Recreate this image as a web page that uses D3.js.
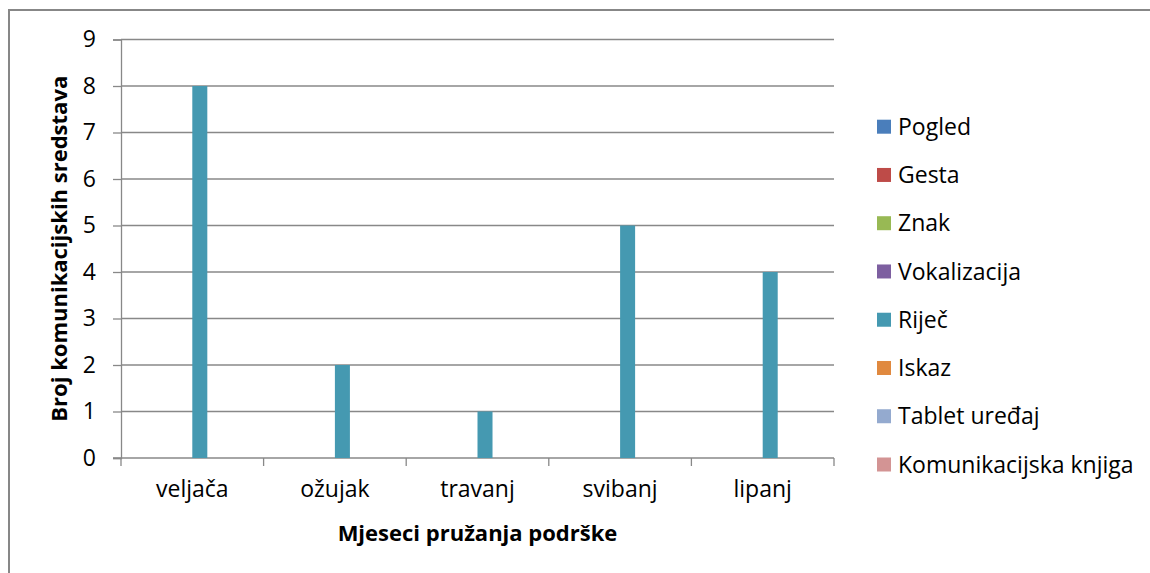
<!DOCTYPE html>
<html>
<head>
<meta charset="utf-8">
<script src="https://cdn.jsdelivr.net/npm/d3@7"></script>
<style>
  html, body { margin: 0; padding: 0; background: #fff; }
  svg { display: block; }
  text { font-family: "Open Sans", "Noto Sans", sans-serif; fill: #000; }
</style>
</head>
<body>
<svg id="chart" width="1150" height="573"></svg>
<script>
// ---- data ----
const categories = ["veljača", "ožujak", "travanj", "svibanj", "lipanj"];
const seriesNames = ["Pogled", "Gesta", "Znak", "Vokalizacija", "Riječ", "Iskaz", "Tablet uređaj", "Komunikacijska knjiga"];
const pogled = [0, 0, 0, 0, 0];
const gesta = [0, 0, 0, 0, 0];
const znak = [0, 0, 0, 0, 0];
const vokalizacija = [0, 0, 0, 0, 0];
const rijec = [8, 2, 1, 5, 4];
const iskaz = [0, 0, 0, 0, 0];
const tablet = [0, 0, 0, 0, 0];
const knjiga = [0, 0, 0, 0, 0];
const yTicks = [0, 1, 2, 3, 4, 5, 6, 7, 8, 9];
const colors = ["#4A7EBB", "#BE4B48", "#98B954", "#7D5FA0", "#4599B1", "#E0893F", "#94AACF", "#D39494"];
const yTitle = "Broj komunikacijskih sredstava";
const xTitle = "Mjeseci pružanja podrške";

const seriesValues = [pogled, gesta, znak, vokalizacija, rijec, iskaz, tablet, knjiga];
const series = seriesNames.map((name, i) => ({ name, color: colors[i], values: seriesValues[i] }));

// ---- layout ----
const svg = d3.select("#chart");
const plot = { left: 121, right: 834, top: 39.5, bottom: 458 };
const gridColor = "#888888";
const labelSize = 23;
const titleSize = 22;

// outer border (extends past right/bottom of the picture)
svg.append("rect")
  .attr("x", 9).attr("y", 10)
  .attr("width", 1160).attr("height", 600)
  .attr("fill", "none").attr("stroke", "#878787").attr("stroke-width", 2);

const x = d3.scaleBand().domain(categories).range([plot.left, plot.right]).paddingInner(0).paddingOuter(0);
const xs = d3.scaleBand().domain(seriesNames).range([0, x.bandwidth()]).paddingInner(0).paddingOuter(0.75);
const y = d3.scaleLinear().domain([0, 9]).range([plot.bottom, plot.top]);

// gridlines + y axis
const yAxis = d3.axisLeft(y).tickValues(yTicks).tickSize(8).tickPadding(17).tickFormat(d3.format("d"));
const gy = svg.append("g").attr("transform", `translate(${plot.left},0)`).call(yAxis);
gy.select(".domain").attr("stroke", gridColor).attr("stroke-width", 1.3);
gy.selectAll(".tick line").attr("stroke", gridColor).attr("stroke-width", 1.3);
gy.selectAll(".tick text").attr("font-size", labelSize).attr("font-family", "Open Sans").attr("fill", "#000");

svg.append("g").selectAll("line").data(yTicks.filter(d => d > 0)).join("line")
  .attr("x1", plot.left).attr("x2", plot.right)
  .attr("y1", d => y(d)).attr("y2", d => y(d))
  .attr("stroke", gridColor).attr("stroke-width", 1.3);

// x axis
const xAxis = d3.axisBottom(x).tickSize(0).tickPadding(23);
const gx = svg.append("g").attr("transform", `translate(0,${plot.bottom})`).call(xAxis);
gx.select(".domain").remove();
gx.selectAll(".tick text").attr("font-size", labelSize).attr("font-family", "Open Sans").attr("fill", "#000");
svg.append("line")
  .attr("x1", plot.left - 8).attr("x2", plot.right)
  .attr("y1", plot.bottom).attr("y2", plot.bottom)
  .attr("stroke", gridColor).attr("stroke-width", 1.3);
const boundaries = categories.map(c => x(c)).concat([x(categories[categories.length - 1]) + x.bandwidth()]);
svg.append("g").selectAll("line").data(boundaries).join("line")
  .attr("x1", d => d).attr("x2", d => d)
  .attr("y1", plot.bottom).attr("y2", plot.bottom + 8)
  .attr("stroke", gridColor).attr("stroke-width", 1.3);

// bars
series.forEach(s => {
  svg.append("g").selectAll("rect").data(s.values).join("rect")
    .attr("x", (d, i) => x(categories[i]) + xs(s.name))
    .attr("width", xs.bandwidth())
    .attr("y", d => y(d))
    .attr("height", d => y(0) - y(d))
    .attr("fill", s.color);
});

// axis titles
svg.append("text")
  .attr("transform", `translate(67,${(plot.top + plot.bottom) / 2}) rotate(-90)`)
  .attr("text-anchor", "middle")
  .attr("font-size", titleSize).attr("font-weight", "bold")
  .text(yTitle);
svg.append("text")
  .attr("x", (plot.left + plot.right) / 2).attr("y", 541)
  .attr("text-anchor", "middle")
  .attr("font-size", titleSize).attr("font-weight", "bold")
  .text(xTitle);

// legend
const legend = svg.append("g");
const rowY = d3.scalePoint().domain(seriesNames).range([126.7, 464.5]);
const items = legend.selectAll("g").data(series).join("g")
  .attr("transform", d => `translate(877,${rowY(d.name)})`);
items.append("rect").attr("x", 0).attr("y", -7).attr("width", 14).attr("height", 14).attr("fill", d => d.color);
items.append("text").attr("x", 21).attr("y", 0).attr("dy", "0.35em")
  .attr("font-size", labelSize).text(d => d.name);
</script>
</body>
</html>
